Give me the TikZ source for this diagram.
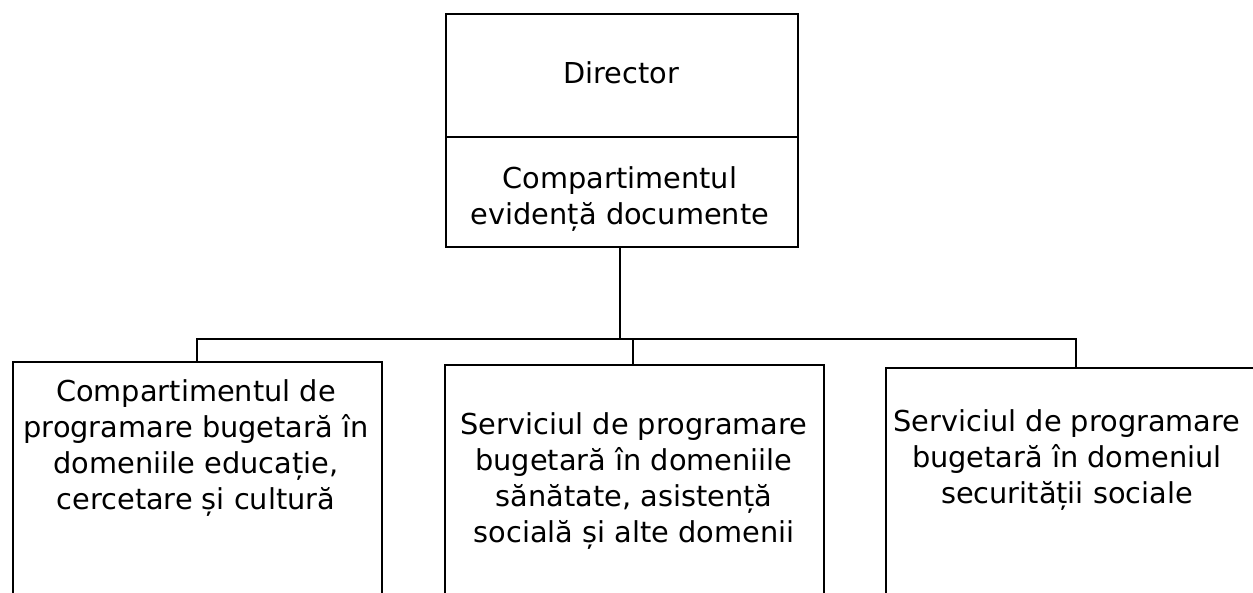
\documentclass[tikz,border=0pt]{standalone}
\usepackage{fontspec}
\setmainfont{DejaVu Sans}
\begin{document}
\begin{tikzpicture}[x=1pt,y=-1pt,
  box/.style={draw, line width=2.3pt, rectangle, anchor=north west, inner sep=0pt},
  txt/.style={align=center, inner sep=0pt, font=\fontsize{28.8}{36}\selectfont},
  conn/.style={line width=2.3pt}]
\useasboundingbox (0,0) rectangle (1253,593);
\clip (0,0) rectangle (1253,593);
\fill[white] (0,0) rectangle (1253,593);
% top boxes
\node[box, minimum width=352pt, minimum height=123pt] (dir) at (445,13) {};
\node[box, minimum width=352pt, minimum height=110pt] (ced) at (445,136) {};
\node[txt] (tdir) at (621,73) {Director};
\node[txt] (tced) at (620,199) {Compartimentul\\evidență documente};
% bottom boxes
\node[box, minimum width=369pt, minimum height=280pt] (b1) at (12,361) {};
\node[box, minimum width=379pt, minimum height=280pt] (b2) at (444,364) {};
\node[box, minimum width=420pt, minimum height=280pt] (b3) at (885,367) {};
\node[txt] (t1) at (196,448) {Compartimentul de\\programare bugetară în\\domeniile educație,\\cercetare și cultură};
\node[txt] (t2) at (634,481) {Serviciul de programare\\bugetară în domeniile\\sănătate, asistență\\socială și alte domenii};
\node[txt] (t3) at (1067,460) {Serviciul de programare\\bugetară în domeniul\\securității sociale};
% connectors
\coordinate (bus) at (620,339);
\coordinate (busL) at (197,339);
\coordinate (busM) at (633,339);
\coordinate (busR) at (1076,339);
\draw[conn] (ced.south -| bus) -- (bus);
\draw[conn, line cap=rect] (busL) -- (busR);
\draw[conn] (busL) -- (busL |- b1.north);
\draw[conn] (busM) -- (busM |- b2.north);
\draw[conn] (busR) -- (busR |- b3.north);
\end{tikzpicture}
\end{document}
